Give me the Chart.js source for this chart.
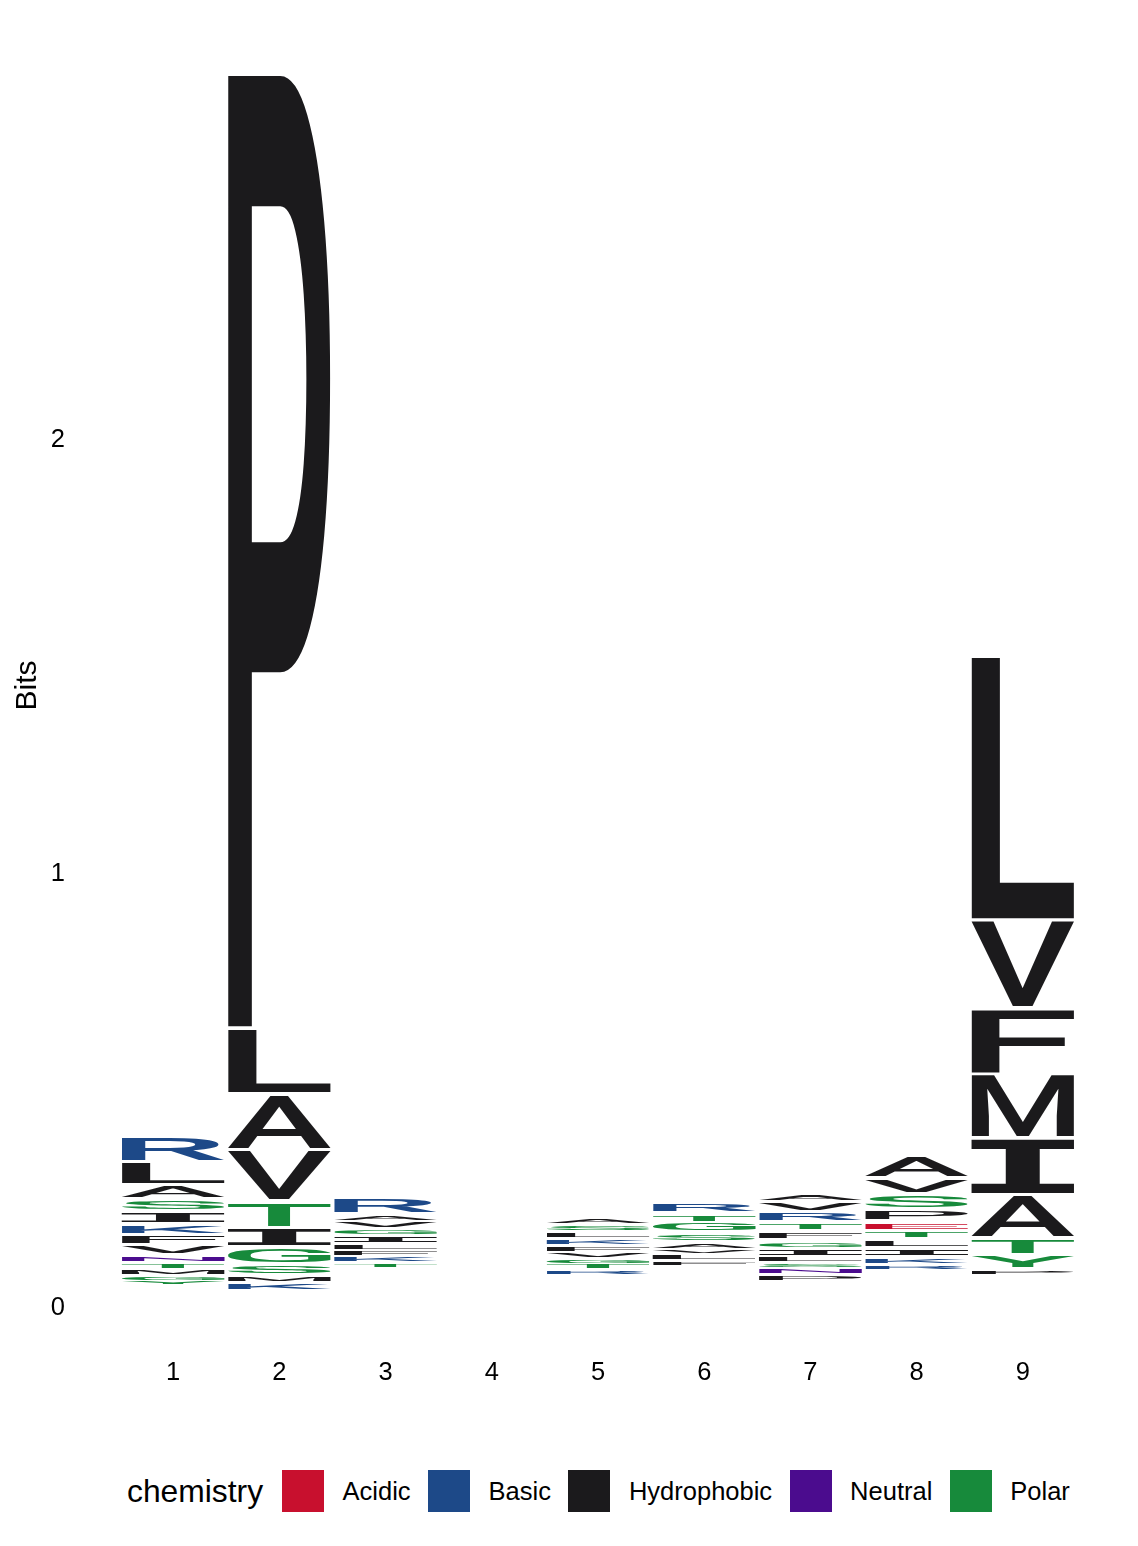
<!DOCTYPE html>
<html>
<head>
<meta charset="utf-8">
<script src="https://cdn.jsdelivr.net/npm/chart.js@4.4.1/dist/chart.umd.min.js"></script>
<style>
  html, body { margin: 0; padding: 0; background: #ffffff; }
  #wrap { position: relative; width: 1138px; height: 1546px; overflow: hidden; background: #fff; }
  #chartBox { position: absolute; left: 0; top: 0; width: 1138px; height: 1440px; }
  #legend { position: absolute; left: 127px; top: 1470px; height: 42px; display: flex; align-items: center;
            font-family: "Liberation Sans", Arial, sans-serif; color: #000; white-space: nowrap; }
  #legend .ttl { font-size: 31.8px; margin-right: 19px; }
  #legend .sw { width: 42px; height: 42px; margin-right: 18.5px; flex: none; }
  #legend .lab { font-size: 25.5px; margin-right: 17.5px; }
</style>
</head>
<body>
<div id="wrap">
  <div id="chartBox"><canvas id="c" width="1138" height="1440"></canvas></div>
  <div id="legend"></div>
</div>
<script>
// ---------------- data ----------------
const positions = ['1', '2', '3', '4', '5', '6', '7', '8', '9'];
const yTicks = [0, 1, 2];
const yAxisTitle = 'Bits';
const legendTitle = 'chemistry';

const chemistryGroups = ['Acidic', 'Basic', 'Hydrophobic', 'Neutral', 'Polar'];
const chemistryColors = ['#C8102E', '#1D4988', '#1B1A1C', '#4B0C8E', '#178A3B'];
const chemistryMembers = ['DE', 'HKR', 'AFILMPVW', 'NQ', 'CGSTY'];

// letters of each position, listed from the top of the stack downwards, with their heights in bits
const pos1Letters = ['R', 'L', 'A', 'S', 'I', 'K', 'F', 'V', 'N', 'T', 'M', 'G', 'Y'];
const pos1Bits    = [0.060, 0.053, 0.032, 0.028, 0.030, 0.025, 0.023, 0.023, 0.016, 0.016, 0.014, 0.012, 0.009];
const pos2Letters = ['P', 'L', 'A', 'V', 'T', 'I', 'G', 'S', 'M', 'K'];
const pos2Bits    = [2.196, 0.152, 0.129, 0.118, 0.060, 0.044, 0.041, 0.025, 0.016, 0.018];
const pos3Letters = ['R', 'A', 'V', 'G', 'I', 'L', 'F', 'K', 'T'];
const pos3Bits    = [0.039, 0.014, 0.018, 0.016, 0.018, 0.016, 0.014, 0.014, 0.012];
const pos4Letters = [];
const pos4Bits    = [];
const pos5Letters = ['A', 'S', 'L', 'K', 'F', 'V', 'G', 'T', 'R'];
const pos5Bits    = [0.014, 0.016, 0.016, 0.016, 0.016, 0.014, 0.012, 0.014, 0.012];
const pos6Letters = ['R', 'T', 'G', 'S', 'A', 'V', 'L', 'F'];
const pos6Bits    = [0.023, 0.021, 0.023, 0.021, 0.016, 0.012, 0.014, 0.012];
const pos7Letters = ['A', 'V', 'R', 'T', 'F', 'G', 'I', 'L', 'S', 'N', 'P'];
const pos7Bits    = [0.018, 0.025, 0.023, 0.021, 0.021, 0.018, 0.018, 0.014, 0.012, 0.016, 0.014];
const pos8Letters = ['A', 'V', 'S', 'P', 'E', 'T', 'L', 'I', 'K', 'R'];
const pos8Bits    = [0.051, 0.037, 0.035, 0.028, 0.021, 0.018, 0.021, 0.021, 0.016, 0.012];
const pos9Letters = ['L', 'V', 'F', 'M', 'I', 'A', 'T', 'Y', 'P'];
const pos9Bits    = [0.608, 0.203, 0.152, 0.147, 0.131, 0.099, 0.039, 0.032, 0.012];
// remaining (too small to be drawn) information at the bottom of each stack
const residualBits = [0.046, 0.032, 0.085, 0, 0.069, 0.090, 0.055, 0.081, 0.069];

// ---------------- build datasets ----------------
const allLetters = [pos1Letters, pos2Letters, pos3Letters, pos4Letters, pos5Letters, pos6Letters, pos7Letters, pos8Letters, pos9Letters];
const allBits = [pos1Bits, pos2Bits, pos3Bits, pos4Bits, pos5Bits, pos6Bits, pos7Bits, pos8Bits, pos9Bits];

function colorOf(ch) {
  for (let g = 0; g < chemistryGroups.length; g++) {
    if (chemistryMembers[g].indexOf(ch) >= 0) return chemistryColors[g];
  }
  return '#888';
}

const common = { barPercentage: 0.96, categoryPercentage: 1.0, borderWidth: 0, backgroundColor: 'rgba(0,0,0,0)', stack: 'logo' };
const datasets = [Object.assign({ label: 'residual', data: residualBits.slice() }, common)];
const maxLevels = Math.max.apply(null, allLetters.map(a => a.length));
for (let k = 0; k < maxLevels; k++) {
  const data = [], letters = [];
  for (let p = 0; p < positions.length; p++) {
    const n = allLetters[p].length;
    const idx = n - 1 - k; // k-th letter counted from the bottom
    if (idx >= 0) { data.push(allBits[p][idx]); letters.push(allLetters[p][idx]); }
    else { data.push(0); letters.push(null); }
  }
  datasets.push(Object.assign({ label: 'level' + k, data: data, letters: letters }, common));
}

// ---------------- glyph drawing plugin ----------------
const GLYPH_SIZE = 400;
function fontFor(ch) {
  return ch === 'I'
    ? 'bold ' + GLYPH_SIZE + 'px "DejaVu Sans Mono", "Liberation Mono", monospace'
    : '500 ' + GLYPH_SIZE + 'px Roboto, "Liberation Sans", sans-serif';
}
// exact ink bounds of a glyph, found by rendering it off screen
const inkCache = {};
function glyphInk(ch) {
  if (inkCache[ch]) return inkCache[ch];
  const W = 800, H = 800, ox = 200, oy = 600;
  const c = document.createElement('canvas'); c.width = W; c.height = H;
  const g = c.getContext('2d');
  g.font = fontFor(ch); g.textAlign = 'left'; g.textBaseline = 'alphabetic'; g.fillStyle = '#000';
  g.fillText(ch, ox, oy);
  const d = g.getImageData(0, 0, W, H).data;
  let x0 = W, x1 = -1, y0 = H, y1 = -1;
  for (let y = 0; y < H; y++) {
    for (let x = 0; x < W; x++) {
      if (d[(y * W + x) * 4 + 3] > 127) {
        if (x < x0) x0 = x; if (x > x1) x1 = x;
        if (y < y0) y0 = y; if (y > y1) y1 = y;
      }
    }
  }
  inkCache[ch] = { ox: ox, oy: oy, x0: x0, y0: y0, w: x1 - x0 + 1, h: y1 - y0 + 1 };
  return inkCache[ch];
}
function drawGlyph(ctx, ch, color, bx, by, w, h) {
  const m = glyphInk(ch);
  if (m.w <= 0 || m.h <= 0 || h <= 0) return;
  ctx.save();
  ctx.translate(bx, by);
  ctx.scale(w / m.w, h / m.h);
  ctx.font = fontFor(ch);
  ctx.textAlign = 'left';
  ctx.textBaseline = 'alphabetic';
  ctx.fillStyle = color;
  ctx.fillText(ch, m.ox - m.x0, m.oy - m.y0);
  ctx.restore();
}
const logoPlugin = {
  id: 'logoGlyphs',
  afterDatasetsDraw(chart) {
    const ctx = chart.ctx;
    chart.data.datasets.forEach((ds, di) => {
      if (!ds.letters) return;
      const meta = chart.getDatasetMeta(di);
      meta.data.forEach((bar, i) => {
        const ch = ds.letters[i];
        if (!ch) return;
        const p = bar.getProps(['x', 'y', 'base', 'width'], true);
        const top = Math.min(p.y, p.base), bottom = Math.max(p.y, p.base);
        const h = bottom - top;
        if (h <= 0.2) return;
        const gap = Math.min(4, h * 0.4);
        drawGlyph(ctx, ch, colorOf(ch), p.x - p.width / 2, top, p.width, h - gap);
      });
    });
  }
};

// ---------------- chart ----------------
const tickFont = { family: '"Liberation Sans", Arial, sans-serif', size: 25.5, lineHeight: 1 };
new Chart(document.getElementById('c'), {
  type: 'bar',
  data: { labels: positions, datasets: datasets },
  options: {
    responsive: false,
    animation: false,
    events: [],
    layout: { padding: { top: 13, right: 62, left: 0, bottom: 0 } },
    plugins: { legend: { display: false }, tooltip: { enabled: false } },
    scales: {
      x: {
        type: 'category',
        stacked: true,
        offset: true,
        grid: { display: false, drawTicks: false },
        border: { display: false },
        ticks: { font: tickFont, color: '#000', padding: 2, maxRotation: 0 },
        afterFit(scale) { scale.height = 82; scale.paddingLeft = 0; scale.paddingRight = 0; }
      },
      y: {
        type: 'linear',
        stacked: true,
        min: -0.12,
        max: 2.979,
        grid: { display: false, drawTicks: false },
        border: { display: false },
        ticks: { font: tickFont, color: '#000', padding: 55, labelOffset: 2 },
        afterBuildTicks(scale) { scale.ticks = yTicks.map(v => ({ value: v })); },
        afterFit(scale) { scale.width = 120; scale.paddingTop = 0; scale.paddingBottom = 0; },
        title: {
          display: true, text: yAxisTitle, color: '#000',
          font: { family: '"Liberation Sans", Arial, sans-serif', size: 30, lineHeight: 1.2 },
          padding: { top: 10, bottom: 0 }
        }
      }
    }
  },
  plugins: [logoPlugin]
});

// ---------------- legend ----------------
const lg = document.getElementById('legend');
const t = document.createElement('span'); t.className = 'ttl'; t.textContent = legendTitle; lg.appendChild(t);
chemistryGroups.forEach((g, i) => {
  const sw = document.createElement('span'); sw.className = 'sw'; sw.style.background = chemistryColors[i]; lg.appendChild(sw);
  const lb = document.createElement('span'); lb.className = 'lab'; lb.textContent = g; lg.appendChild(lb);
});
</script>
</body>
</html>
